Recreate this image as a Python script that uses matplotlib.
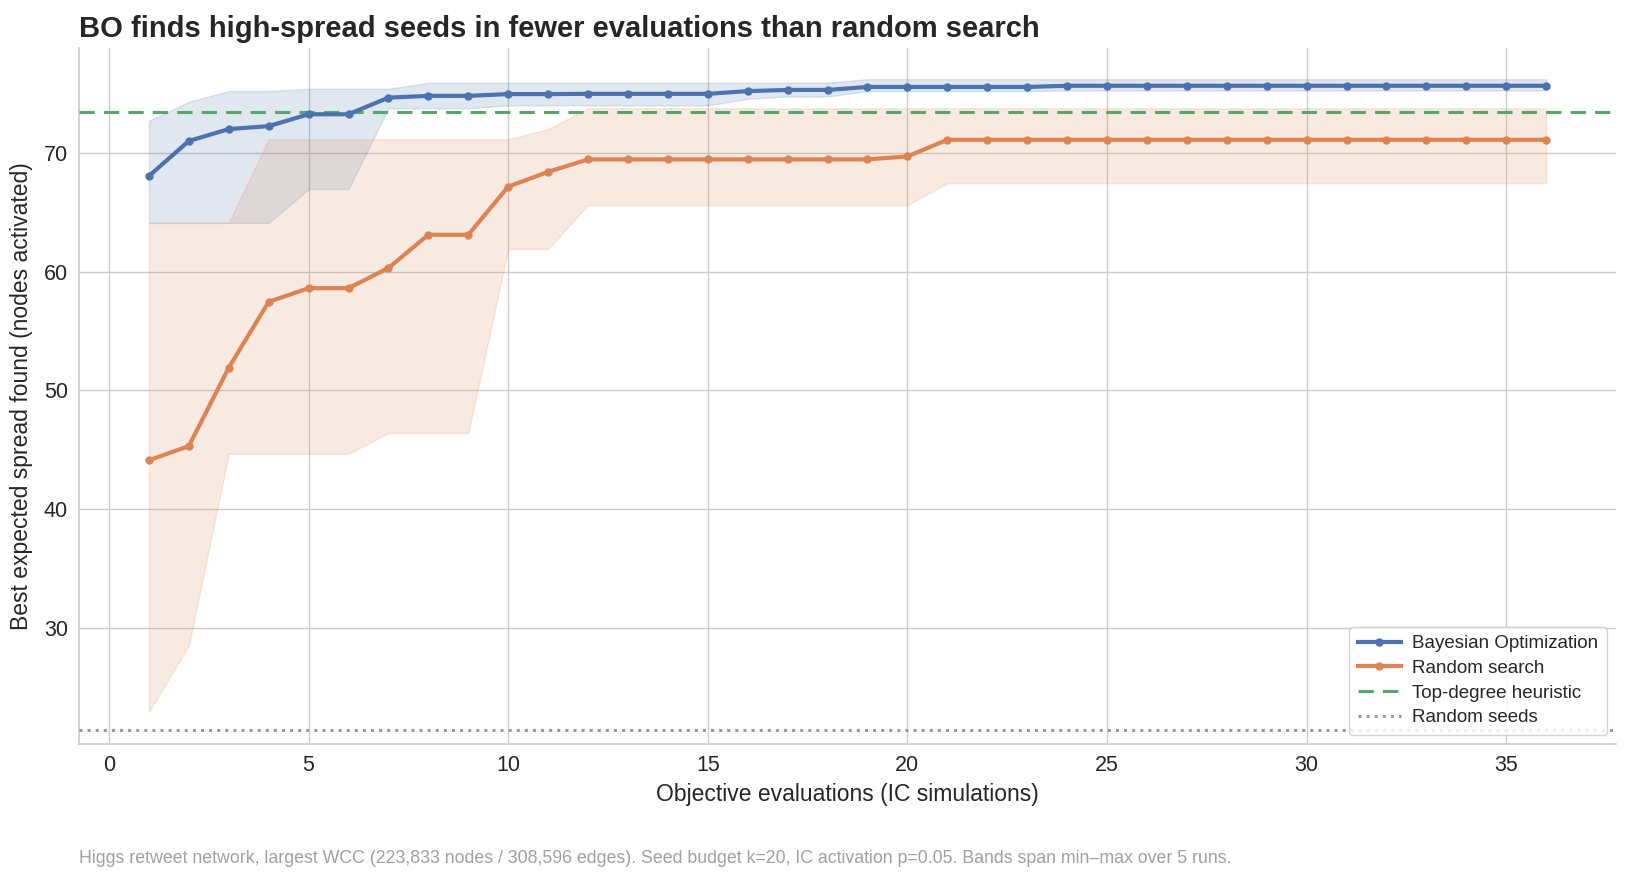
import matplotlib
matplotlib.use("Agg")
import matplotlib.pyplot as plt
import numpy as np

plt.rcParams['font.family'] = ['Liberation Sans', 'DejaVu Sans']

# Objective evaluations
evals = list(range(1, 37))

# Bayesian Optimization: median best spread and min-max band over 5 runs
bo_mid = [68.05, 71.0, 72.0, 72.25, 73.25, 73.25, 74.65, 74.8, 74.8, 74.95,
          74.95, 74.97, 74.97, 74.97, 74.97, 75.2, 75.3, 75.3, 75.55, 75.55,
          75.55, 75.55, 75.55, 75.65, 75.65, 75.65, 75.65, 75.65, 75.65, 75.65,
          75.65, 75.65, 75.65, 75.65, 75.65, 75.65]
bo_lo = [64.1, 64.1, 64.1, 64.1, 66.95, 66.95, 73.75, 73.75, 73.75, 74.0,
         74.0, 74.0, 74.0, 74.0, 74.0, 74.55, 74.75, 74.75, 75.2, 75.2,
         75.2, 75.2, 75.2, 75.25, 75.25, 75.25, 75.25, 75.25, 75.25, 75.25,
         75.25, 75.25, 75.25, 75.25, 75.25, 75.25]
bo_hi = [72.7, 74.3, 75.2, 75.2, 75.4, 75.4, 75.4, 75.9, 75.9, 75.9,
         75.9, 75.9, 75.9, 75.9, 75.9, 75.9, 75.9, 75.9, 76.2, 76.2,
         76.2, 76.2, 76.2, 76.2, 76.2, 76.2, 76.2, 76.2, 76.2, 76.2,
         76.2, 76.2, 76.2, 76.2, 76.2, 76.2]

# Random search
rs_mid = [44.1, 45.3, 51.9, 57.45, 58.6, 58.6, 60.3, 63.1, 63.1, 67.15,
          68.4, 69.45, 69.45, 69.45, 69.45, 69.45, 69.45, 69.45, 69.45, 69.7,
          71.1, 71.1, 71.1, 71.1, 71.1, 71.1, 71.1, 71.1, 71.1, 71.1,
          71.1, 71.1, 71.1, 71.1, 71.1, 71.1]
rs_lo = [22.9, 28.5, 44.65, 44.65, 44.65, 44.65, 46.4, 46.4, 46.4, 61.9,
         61.9, 65.6, 65.6, 65.6, 65.6, 65.6, 65.6, 65.6, 65.6, 65.6,
         67.45, 67.45, 67.45, 67.45, 67.45, 67.45, 67.45, 67.45, 67.45, 67.45,
         67.45, 67.45, 67.45, 67.45, 67.45, 67.45]
rs_hi = [64.1, 64.1, 64.1, 71.15, 71.15, 71.15, 71.15, 71.15, 71.15, 71.15,
         72.0, 73.75, 73.75, 73.75, 73.75, 73.75, 73.75, 73.75, 73.75, 73.75,
         73.75, 73.75, 73.75, 73.75, 73.75, 73.75, 73.75, 73.75, 73.75, 73.75,
         73.75, 73.75, 73.75, 73.75, 73.75, 73.75]

# Baselines
top_degree = 73.45
random_seeds = 21.4

blue = '#4c72b0'
orange = '#dd8452'
green = '#55a868'
gray = '#9a9a9a'
text_col = '#262626'

fig, ax = plt.subplots(figsize=(16.3, 8.8), dpi=100)
fig.subplots_adjust(left=0.0485, right=0.9914, top=0.9457, bottom=0.1545)

ax.fill_between(evals, bo_lo, bo_hi, color=blue, alpha=0.17, linewidth=1)
ax.fill_between(evals, rs_lo, rs_hi, color=orange, alpha=0.17, linewidth=1)
ax.plot(evals, bo_mid, color=blue, linewidth=3, marker='o', markersize=5,
        label='Bayesian Optimization', zorder=4)
ax.plot(evals, rs_mid, color=orange, linewidth=3, marker='o', markersize=5,
        label='Random search', zorder=4)
ax.axhline(top_degree, color=green, linestyle='--', linewidth=2.2, dashes=(5, 3),
           label='Top-degree heuristic', zorder=3)
ax.axhline(random_seeds, color=gray, linestyle=':', linewidth=2.2,
           label='Random seeds', zorder=3)

ax.set_xlim(-0.75, 37.75)
ax.set_ylim(20.2, 78.85)
ax.set_xticks([0, 5, 10, 15, 20, 25, 30, 35])
ax.set_yticks([30, 40, 50, 60, 70])

ax.grid(True, color='#cccccc', linewidth=1)
ax.set_axisbelow(True)
for side in ['top', 'right']:
    ax.spines[side].set_visible(False)
for side in ['left', 'bottom']:
    ax.spines[side].set_color('#cccccc')
    ax.spines[side].set_linewidth(1.2)
ax.tick_params(length=0, labelsize=15.5, colors=text_col, pad=8)

ax.set_xlabel('Objective evaluations (IC simulations)', fontsize=16.5, color=text_col, labelpad=5)
ax.set_ylabel('Best expected spread found (nodes activated)', fontsize=16.5, color=text_col, labelpad=8)
ax.set_title('BO finds high-spread seeds in fewer evaluations than random search',
             loc='left', fontsize=21, fontweight='bold', color=text_col, pad=8)

leg = ax.legend(loc='lower right', fontsize=13.5, frameon=True, fancybox=True,
                framealpha=0.85, edgecolor='#cccccc', borderpad=0.45,
                handlelength=2.3, handletextpad=0.6, labelspacing=0.4)
for t in leg.get_texts():
    t.set_color(text_col)

fig.text(0.0485, 0.015,
         'Higgs retweet network, largest WCC (223,833 nodes / 308,596 edges). '
         'Seed budget k=20, IC activation p=0.05. Bands span min\u2013max over 5 runs.',
         fontsize=12.75, color='#a0a0a0', ha='left', va='bottom')

fig.savefig('out.png', dpi=100, facecolor='white')
